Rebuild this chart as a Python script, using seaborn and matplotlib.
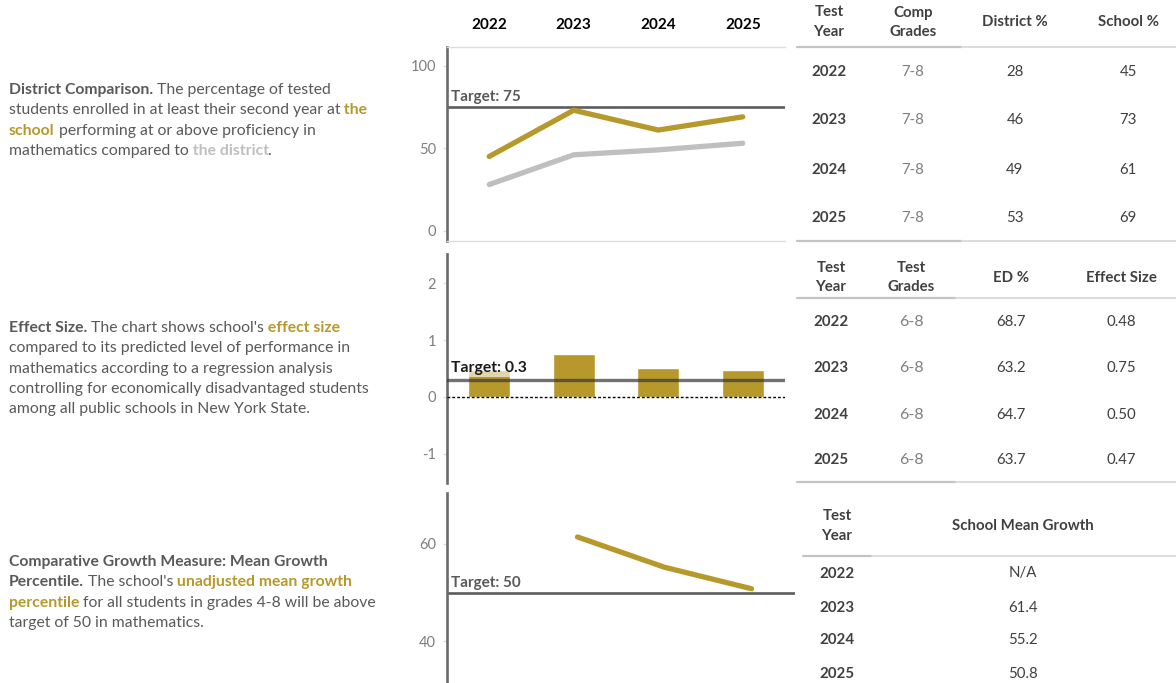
import numpy as np
import pandas as pd
import matplotlib
matplotlib.use("Agg")
import matplotlib.pyplot as plt
import seaborn as sns

# ---------------- data ----------------
years = [2022, 2023, 2024, 2025]
comp_grades = ["7-8", "7-8", "7-8", "7-8"]
district_pct = [28, 46, 49, 53]
school_pct = [45, 73, 61, 69]
target_prof = 75

test_grades = ["6-8", "6-8", "6-8", "6-8"]
ed_pct = [68.7, 63.2, 64.7, 63.7]
effect_size = [0.48, 0.75, 0.50, 0.47]
target_effect = 0.3

mean_growth = [np.nan, 61.4, 55.2, 50.8]
target_growth = 50

# ---------------- style ----------------
sns.set_style("white")
FONT = ["Lato", "DejaVu Sans"]
plt.rcParams["font.family"] = FONT
plt.rcParams["axes.unicode_minus"] = False

GOLD = "#B7982B"
LGRAY = "#BFBFBF"
TXT = "#595959"
DARK = "#404040"
TICK = "#7F7F7F"
TLINE = "#5C5C5C"
FS = 10.5
FS_BODY = 11.3

W, H = 1176, 683
fig = plt.figure(figsize=(W / 100, H / 100), dpi=100)


def rect(l, t, r, b):
    return [l / W, 1 - b / H, (r - l) / W, (b - t) / H]


def fx(x):
    return x / W


def fy(y):
    return 1 - y / H


def style_axis(ax, yticks, ylim):
    for s in ["top", "right", "bottom"]:
        ax.spines[s].set_visible(False)
    ax.spines["left"].set_color("#6A6A6A")
    ax.spines["left"].set_linewidth(1.9)
    ax.set_yticks(yticks)
    ax.set_ylim(*ylim)
    ax.tick_params(axis="y", colors="#DDDDDD", labelcolor=TICK, labelsize=FS,
                   length=3, width=1, pad=5, left=True)
    ax.set_xlabel("")
    ax.set_ylabel("")
    ax.grid(False)


# ---------------- panel 1: district comparison ----------------
ax1 = fig.add_axes(rect(447, 47, 785, 241))
df1 = pd.DataFrame({"year": years, "district": district_pct, "school": school_pct})
sns.lineplot(data=df1, x="year", y="district", color=LGRAY, lw=3.8, ax=ax1,
             solid_capstyle="round")
sns.lineplot(data=df1, x="year", y="school", color=GOLD, lw=3.8, ax=ax1,
             solid_capstyle="round")
ax1.axhline(target_prof, color=TLINE, lw=1.9, zorder=1)
style_axis(ax1, [0, 50, 100], (-6.2, 111.3))
ax1.set_xlim(2021.5, 2025.5)
ax1.set_xticks(years)
ax1.set_xticklabels([str(y) for y in years], fontweight="bold", fontsize=11)
ax1.tick_params(axis="x", top=True, labeltop=True, bottom=False, labelbottom=False,
                length=0, pad=11, labelcolor="black")
for s in ["top", "bottom"]:
    ax1.spines[s].set_visible(True)
    ax1.spines[s].set_color("#DDDDDD")
    ax1.spines[s].set_linewidth(1.0)
ax1.annotate(f"Target: {target_prof}", xy=(0, target_prof),
             xycoords=("axes fraction", "data"), xytext=(4, 3),
             textcoords="offset pixels", va="bottom", ha="left",
             fontsize=11, fontweight="bold", color=TXT)

# ---------------- panel 2: effect size ----------------
ax2 = fig.add_axes(rect(447, 254, 785, 483))
df2 = pd.DataFrame({"year": [str(y) for y in years], "effect": effect_size})
sns.barplot(data=df2, x="year", y="effect", color=GOLD, saturation=1, width=0.5,
            ax=ax2, zorder=2)
ax2.axhline(0, color="black", lw=1.0, ls=(0, (2, 1.5)), zorder=3)
ax2.axhline(target_effect, color="#3A3A3A", alpha=0.72, lw=2.4, zorder=4)
style_axis(ax2, [-1, 0, 1, 2], (-1.52, 2.52))
ax2.set_xlim(-0.5, 3.5)
ax2.set_xticks([])
ax2.annotate(f"Target: {target_effect}", xy=(0, target_effect),
             xycoords=("axes fraction", "data"), xytext=(4, 5),
             textcoords="offset pixels", va="bottom", ha="left",
             fontsize=11.3, fontweight="bold", color="#1A1A1A", zorder=5,
             bbox=dict(boxstyle="square,pad=0.15", fc="white", ec="none", alpha=0.6))

# ---------------- panel 3: mean growth percentile ----------------
ax3 = fig.add_axes(rect(447, 493, 795, 683))
df3 = pd.DataFrame({"year": years, "growth": mean_growth}).dropna()
sns.lineplot(data=df3, x="year", y="growth", color=GOLD, lw=3.8, ax=ax3,
             solid_capstyle="round")
ax3.axhline(target_growth, color=TLINE, lw=1.9, zorder=1)
style_axis(ax3, [40, 60], (31.5, 70.4))
ax3.set_xlim(2021.5, 2025.5)
ax3.set_xticks([])
ax3.annotate(f"Target: {target_growth}", xy=(0, target_growth),
             xycoords=("axes fraction", "data"), xytext=(4, 3),
             textcoords="offset pixels", va="bottom", ha="left",
             fontsize=11, fontweight="bold", color=TXT)

# ---------------- left descriptive text ----------------
renderer = fig.canvas.get_renderer()


def runs(x, y, parts):
    cx = x
    for part in parts:
        s, w, c = part[:3]
        nudge = part[3] if len(part) > 3 else 0
        t = fig.text(fx(cx + nudge), fy(y), s, fontsize=FS_BODY, fontweight=w, color=c,
                     va="baseline", ha="left")
        cx += t.get_window_extent(renderer=renderer).width + nudge


N, B = "normal", "bold"
blocks = [
    (94, [
        [("District Comparison.", B, TXT), (" The percentage of tested", N, TXT)],
        [("students enrolled in at least their second year at", N, TXT), (" the", B, GOLD)],
        [("school", B, GOLD), (" performing at or above proficiency in", N, TXT)],
        [("mathematics compared to", N, TXT), (" the district", B, LGRAY), (".", N, TXT, -2)],
    ]),
    (332, [
        [("Effect Size.", B, TXT), (" The chart shows school's", N, TXT), (" effect size", B, GOLD)],
        [("compared to its predicted level of performance in", N, TXT)],
        [("mathematics according to a regression analysis", N, TXT)],
        [("controlling for economically disadvantaged students", N, TXT)],
        [("among all public schools in New York State.", N, TXT)],
    ]),
    (566, [
        [("Comparative Growth Measure: Mean Growth", B, TXT)],
        [("Percentile.", B, TXT), (" The school's", N, TXT), (" unadjusted mean growth", B, GOLD)],
        [("percentile", B, GOLD), (" for all students in grades 4-8 will be above", N, TXT)],
        [("target of 50 in mathematics.", N, TXT)],
    ]),
]
for y0, lines in blocks:
    for i, parts in enumerate(lines):
        runs(9, y0 + i * 20.3, parts)


# ---------------- tables ----------------
def T(x, y, s, weight="normal", color=DARK, size=FS + 0.3):
    fig.text(fx(x), fy(y), s, ha="center", va="center_baseline", fontsize=size,
             fontweight=weight, color=color)


def hline(y, x0, xsplit, x1):
    fig.add_artist(plt.Line2D([fx(x0), fx(xsplit)], [fy(y), fy(y)], color="#C4C4C4",
                              lw=1.6, transform=fig.transFigure))
    fig.add_artist(plt.Line2D([fx(xsplit), fx(x1)], [fy(y), fy(y)], color="#DCDCDC",
                              lw=1.4, transform=fig.transFigure))


# table 1
c1 = [829, 913, 1015, 1128]
T(c1[0], 11, "Test", B); T(c1[0], 31, "Year", B)
T(c1[1], 11, "Comp", B); T(c1[1], 31, "Grades", B)
T(c1[2], 21, "District %", B)
T(c1[3], 21, "School %", B)
hline(47, 797, 962, 1176)
for y, yr, g, d, s in zip([71, 119, 168, 216], years, comp_grades, district_pct, school_pct):
    T(c1[0], y, str(yr), B)
    T(c1[1], y, g, N, TICK)
    T(c1[2], y, f"{d}")
    T(c1[3], y, f"{s}")
hline(241, 797, 962, 1176)

# table 2
c2 = [831, 911, 1011, 1121]
T(c2[0], 266, "Test", B); T(c2[0], 286, "Year", B)
T(c2[1], 266, "Test", B); T(c2[1], 286, "Grades", B)
T(c2[2], 276, "ED %", B)
T(c2[3], 276, "Effect Size", B)
hline(298, 797, 956, 1176)
for y, yr, g, e, es in zip([321, 367, 413, 459], years, test_grades, ed_pct, effect_size):
    T(c2[0], y, str(yr), B)
    T(c2[1], y, g, N, TICK, size=11.5)
    T(c2[2], y, f"{e:.1f}")
    T(c2[3], y, f"{es:.2f}")
hline(482, 797, 956, 1176)

# table 3
c3 = [837, 1023]
T(c3[0], 515, "Test", B); T(c3[0], 535, "Year", B)
T(c3[1], 525, "School Mean Growth", B)
hline(556, 803, 872, 1176)
for y, yr, mg in zip([572, 606, 639, 672], years, mean_growth):
    T(c3[0], y, str(yr), B)
    T(c3[1], y, "N/A" if np.isnan(mg) else f"{mg:.1f}")

fig.savefig("out.png", dpi=100)
